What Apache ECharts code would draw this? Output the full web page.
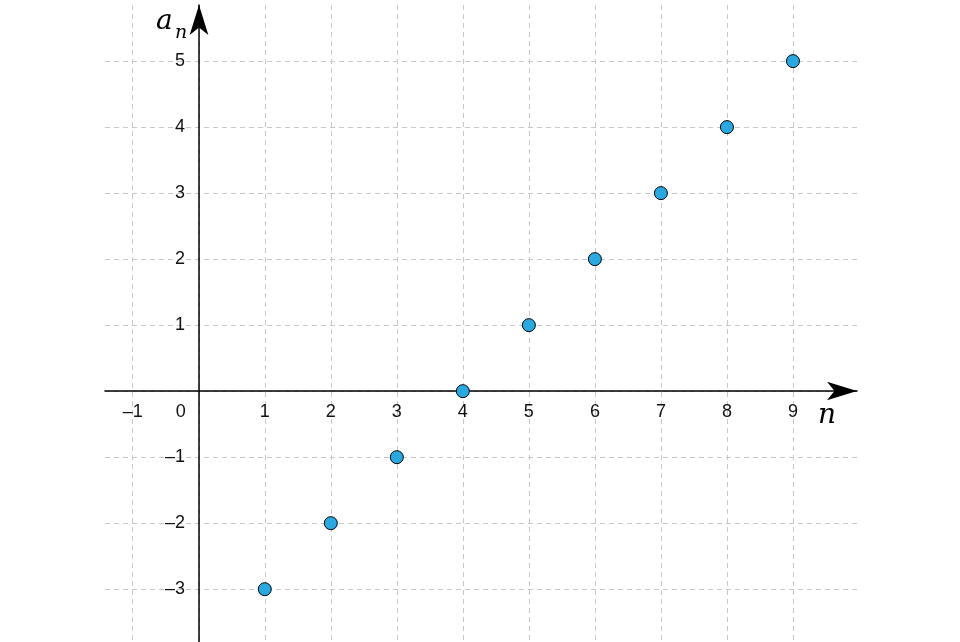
<!DOCTYPE html>
<html>
<head>
<meta charset="utf-8">
<script src="https://cdn.jsdelivr.net/npm/echarts@6/dist/echarts.min.js"></script>
<style>html,body{margin:0;background:#fff}#c{width:960px;height:642px}</style>
</head>
<body>
<div id="c"></div>
<script>
const nValues = [1, 2, 3, 4, 5, 6, 7, 8, 9];
const aValues = [-3, -2, -1, 0, 1, 2, 3, 4, 5];
const xTicks = [-1, 0, 1, 2, 3, 4, 5, 6, 7, 8, 9];
const yTicks = [-3, -2, -1, 0, 1, 2, 3, 4, 5];

const chart = echarts.init(document.getElementById('c'));
const labelFont = { color: '#111', fontSize: 18, fontFamily: 'Liberation Sans' };
const dash = { color: '#c8c8c8', type: [5, 4], width: 1 };
const axisArrow = { show: true, onZero: false, symbol: ['none', 'arrow'], symbolSize: [14, 30], lineStyle: { color: '#000', width: 1.5 } };

// grid: x -1.42..9.97 over 105..857, y -3.8..5.85 over 642..5
chart.setOption({
    animation: false,
    grid: { left: 105, top: 5, width: 752, height: 637, outerBoundsMode: 'none', containLabel: false },
    xAxis: {
        type: 'value', min: -1.42, max: 9.97,
        position: 'bottom', offset: -251,
        axisLine: axisArrow,
        axisTick: { show: false, customValues: xTicks },
        splitLine: { show: true, lineStyle: dash },
        axisLabel: {
            customValues: xTicks, margin: 12, ...labelFont,
            formatter: v => v === 0 ? '{z|0}' : (v < 0 ? '–' + (-v) : String(v)),
            rich: { z: { ...labelFont, padding: [0, 36, 0, 0] } }
        }
    },
    yAxis: {
        type: 'value', min: -3.8, max: 5.85,
        position: 'left', offset: -94,
        axisLine: axisArrow,
        axisTick: { show: false, customValues: yTicks },
        splitLine: { show: true, lineStyle: dash },
        axisLabel: {
            customValues: yTicks, margin: 14, ...labelFont,
            formatter: v => v === 0 ? '' : (v < 0 ? '–' + (-v) : String(v))
        }
    },
    graphic: [
        { type: 'text', left: 156, top: 8, style: { text: 'a', font: 'italic 28px "DejaVu Serif"', fill: '#000' } },
        { type: 'text', left: 175, top: 24, style: { text: 'n', font: 'italic 19px "DejaVu Serif"', fill: '#000' } },
        { type: 'text', left: 818, top: 402, style: { text: 'n', font: 'italic 28px "DejaVu Serif"', fill: '#000' } }
    ],
    series: [{
        type: 'scatter',
        data: nValues.map((n, i) => [n, aValues[i]]),
        symbolSize: 13,
        itemStyle: { color: '#29a9e0', borderColor: '#000', borderWidth: 1, opacity: 1 },
        z: 10
    }]
});
</script>
</body>
</html>
